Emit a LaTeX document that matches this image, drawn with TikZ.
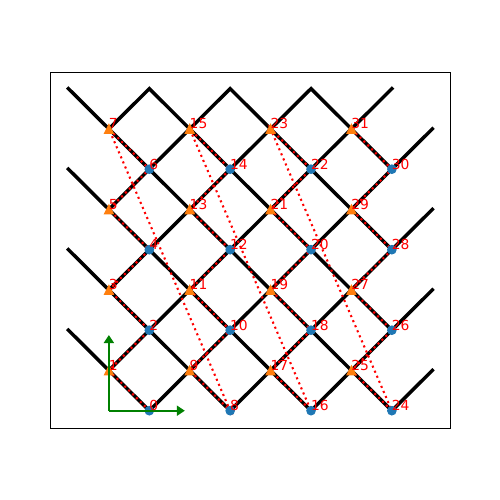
\documentclass[tikz,border=0pt]{standalone}
\usepackage{fontspec}
\setmainfont{DejaVu Sans}
\usetikzlibrary{arrows.meta}
\definecolor{mblue}{HTML}{1F77B4}
\definecolor{morange}{HTML}{FF7F0E}
\definecolor{mgreen}{HTML}{008000}
\tikzset{
  blk/.style={line width=2.5pt, black, line cap=rect, line join=miter},
  reddot/.style={red, line width=1.5pt, dash pattern=on 1.5pt off 2.475pt},
  lbl/.style={anchor=base west, inner sep=0pt, outer sep=0pt, text=red, font=\fontsize{10}{12}\selectfont},
  garrow/.style={mgreen, line width=1.45pt, -{Triangle[length=5.8pt,width=7.2pt]}},
  frame/.style={line width=0.8pt, black}
}
\begin{document}
\begin{tikzpicture}[x=0.01in, y=-0.01in]
\useasboundingbox (0,0) rectangle (500,500);
\draw[frame] (50.5,72.5) rectangle (450.5,428.5);
\begin{scope}[shift={(108.9,410.7)}, x=0.404in, y=0.4023in]
  \foreach \i in {0,...,31} {
    \pgfmathtruncatemacro\cc{int(\i/8)}
    \pgfmathtruncatemacro\jj{mod(\i,8)}
    \pgfmathtruncatemacro\kk{2*\cc+1-mod(\jj,2)}
    \coordinate (n\i) at (\kk,\jj);
  }
  \coordinate (o) at (0,0);
  \coordinate (ex) at (1.88,0);
  \coordinate (ey) at (0,1.88);
  \coordinate (a) at (-1,2);
  \coordinate (b) at (-1,4);
  \coordinate (c) at (-1,6);
  \coordinate (d) at (-1,8);
  \coordinate (p1) at (1,8);
  \coordinate (p3) at (3,8);
  \coordinate (p5) at (5,8);
  \coordinate (p7) at (7,8);
  \coordinate (r1) at (8,1);
  \coordinate (r3) at (8,3);
  \coordinate (r5) at (8,5);
  \coordinate (r7) at (8,7);
\end{scope}
% black lattice lines
\draw[blk] (a) -- (n0) -- (r7);
\draw[blk] (b) -- (n8) -- (r5);
\draw[blk] (c) -- (n16) -- (r3);
\draw[blk] (d) -- (n24) -- (r1);
\draw[blk] (n1) -- (p7);
\draw[blk] (n3) -- (p5) -- (n30);
\draw[blk] (n5) -- (p3) -- (n28);
\draw[blk] (n7) -- (p1) -- (n26);
% red dotted path
\draw[reddot] (n0) \foreach \i in {1,...,31} { -- (n\i) };
% markers
\foreach \i in {0,2,...,30} {
  \fill[mblue] (n\i) circle[radius=3.5pt];
}
\foreach \i in {1,3,...,31} {
  \filldraw[morange, line width=1pt, line join=miter]
    ([shift={(0pt,3pt)}]n\i) -- ([shift={(-3pt,-3pt)}]n\i) -- ([shift={(3pt,-3pt)}]n\i) -- cycle;
}
% green axes arrows
\draw[garrow] (o) -- (ex);
\draw[garrow] (o) -- (ey);
% labels
\foreach \i in {0,...,31} {
  \node[lbl] (t\i) at (n\i) {\i};
}
\end{tikzpicture}
\end{document}
